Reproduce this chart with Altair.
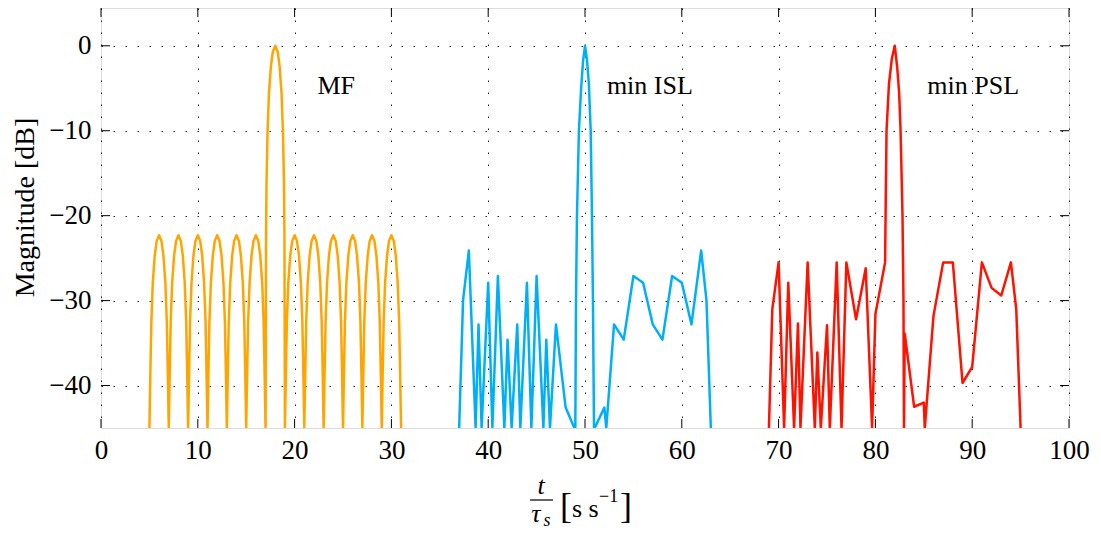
import altair as alt
import pandas as pd

# ---------------- data ----------------
x_ticks = [0, 10, 20, 30, 40, 50, 60, 70, 80, 90, 100]
y_ticks = [-40, -30, -20, -10, 0]

series_names = ["MF", "min ISL", "min PSL"]
series_colors = ["#FFA500", "#00B0F6", "#FF1200"]

mf_t = [
    5, 5.1, 5.2, 5.35, 5.55, 5.75, 6, 6.25, 6.45, 6.65, 6.8, 6.9,
    7, 7.1, 7.2, 7.35, 7.55, 7.75, 8, 8.25, 8.45, 8.65, 8.8, 8.9,
    9, 9.1, 9.2, 9.35, 9.55, 9.75, 10, 10.25, 10.45, 10.65, 10.8, 10.9,
    11, 11.1, 11.2, 11.35, 11.55, 11.75, 12, 12.25, 12.45, 12.65, 12.8, 12.9,
    13, 13.1, 13.2, 13.35, 13.55, 13.75, 14, 14.25, 14.45, 14.65, 14.8, 14.9,
    15, 15.1, 15.2, 15.35, 15.55, 15.75, 16, 16.25, 16.45, 16.65, 16.8, 16.9,
    17, 17.05, 17.1, 17.2, 17.35, 17.55, 17.75, 18, 18.25, 18.45, 18.65, 18.8, 18.9, 18.95,
    19, 19.1, 19.2, 19.35, 19.55, 19.75, 20, 20.25, 20.45, 20.65, 20.8, 20.9,
    21, 21.1, 21.2, 21.35, 21.55, 21.75, 22, 22.25, 22.45, 22.65, 22.8, 22.9,
    23, 23.1, 23.2, 23.35, 23.55, 23.75, 24, 24.25, 24.45, 24.65, 24.8, 24.9,
    25, 25.1, 25.2, 25.35, 25.55, 25.75, 26, 26.25, 26.45, 26.65, 26.8, 26.9,
    27, 27.1, 27.2, 27.35, 27.55, 27.75, 28, 28.25, 28.45, 28.65, 28.8, 28.9,
    29, 29.1, 29.2, 29.35, 29.55, 29.75, 30, 30.25, 30.45, 30.65, 30.8, 30.9,
    31,
]
mf_db = [
    -45, -38.4, -32.5, -27.9, -24.7, -23.0, -22.3, -23.0, -24.7, -27.9, -32.5, -38.4,
    -45, -38.4, -32.5, -27.9, -24.7, -23.0, -22.3, -23.0, -24.7, -27.9, -32.5, -38.4,
    -45, -38.4, -32.5, -27.9, -24.7, -23.0, -22.3, -23.0, -24.7, -27.9, -32.5, -38.4,
    -45, -38.4, -32.5, -27.9, -24.7, -23.0, -22.3, -23.0, -24.7, -27.9, -32.5, -38.4,
    -45, -38.4, -32.5, -27.9, -24.7, -23.0, -22.3, -23.0, -24.7, -27.9, -32.5, -38.4,
    -45, -38.4, -32.5, -27.9, -24.7, -23.0, -22.3, -23.0, -24.7, -27.9, -32.5, -38.4,
    -45, -22.1, -16.1, -10.2, -5.6, -2.4, -0.7, 0, -0.7, -2.4, -5.6, -10.2, -16.1, -22.1,
    -45, -38.4, -32.5, -27.9, -24.7, -23.0, -22.3, -23.0, -24.7, -27.9, -32.5, -38.4,
    -45, -38.4, -32.5, -27.9, -24.7, -23.0, -22.3, -23.0, -24.7, -27.9, -32.5, -38.4,
    -45, -38.4, -32.5, -27.9, -24.7, -23.0, -22.3, -23.0, -24.7, -27.9, -32.5, -38.4,
    -45, -38.4, -32.5, -27.9, -24.7, -23.0, -22.3, -23.0, -24.7, -27.9, -32.5, -38.4,
    -45, -38.4, -32.5, -27.9, -24.7, -23.0, -22.3, -23.0, -24.7, -27.9, -32.5, -38.4,
    -45, -38.4, -32.5, -27.9, -24.7, -23.0, -22.3, -23.0, -24.7, -27.9, -32.5, -38.4,
    -45,
]

isl_t = [
    37.0, 37.4, 38.0, 38.7, 39.0, 39.32, 40.0, 40.43, 41.0, 41.67, 42.0, 42.42,
    43.0, 43.32, 44.0, 44.46, 45.0, 45.7, 46.0, 46.38, 47.0, 48.0, 48.9,
    49.0, 49.07, 49.17, 49.37, 49.6, 49.8, 50.0, 50.2, 50.4, 50.59, 50.72, 50.82, 50.93,
    51.0, 52.0, 52.2, 53.0, 54.0, 55.0, 56.0, 57.0, 58.0, 59.0, 60.0, 61.0, 62.0,
    62.55, 63.0,
]
isl_db = [
    -45, -30.0, -24.1, -45, -32.8, -45, -27.9, -45, -27.1, -45, -34.6, -45,
    -32.8, -45, -27.9, -45, -27.1, -45, -34.6, -45, -32.8, -42.6, -45,
    -45, -30, -20, -10, -5, -1.8, 0, -1.6, -4.5, -10, -20, -30, -45,
    -45, -42.6, -45, -32.8, -34.6, -27.1, -27.9, -32.8, -34.6, -27.1, -27.9, -32.8, -24.1,
    -30.0, -45,
]

psl_t = [
    69.0, 69.35, 70.0, 70.57, 71.0, 71.6, 72.0, 72.26, 73.0, 73.74, 74.0, 74.36,
    75.0, 75.29, 76.0, 76.5, 77.0, 78.0, 79.0, 79.66, 80.0, 81.0,
    81.05, 81.15, 81.4, 81.7, 82.0, 82.25, 82.45, 82.6, 82.8, 82.9, 82.95,
    83.03, 84.0, 85.0, 85.1, 86.0, 87.0, 88.0, 89.0, 90.0, 91.0, 92.0, 93.0, 94.0,
    94.55, 95.0,
]
psl_db = [
    -45, -31.0, -25.5, -45, -27.9, -45, -32.7, -45, -25.5, -45, -36.1, -45,
    -32.9, -45, -25.5, -45, -25.5, -32.2, -26.2, -45, -31.6, -25.5,
    -20, -10, -4.5, -1.5, 0, -2.5, -5.5, -10, -20, -30, -45,
    -33.9, -42.5, -42.0, -45, -31.8, -25.5, -25.5, -39.7, -37.8, -25.5, -28.5, -29.4, -25.5,
    -31.0, -45,
]

label_text = ["MF", "min ISL", "min PSL"]
label_t = [24.3, 56.7, 90.1]
label_db = [-5.7, -5.7, -5.7]

# ---------------- build tables ----------------
df = pd.concat([
    pd.DataFrame({"t": mf_t, "db": mf_db, "series": series_names[0]}),
    pd.DataFrame({"t": isl_t, "db": isl_db, "series": series_names[1]}),
    pd.DataFrame({"t": psl_t, "db": psl_db, "series": series_names[2]}),
], ignore_index=True)

labels_df = pd.DataFrame({"text": label_text, "t": label_t, "db": label_db})
xt_df = pd.DataFrame({"v": x_ticks})
yt_df = pd.DataFrame({"v": y_ticks})

W, H = 968, 420
FONT = "Liberation Serif"
XS = alt.Scale(domain=[0, 100], nice=False, zero=False)
YS = alt.Scale(domain=[-45, 4.45], nice=False, zero=False)

grid_kw = dict(grid=True, gridDash=[1.5, 10.5], gridColor="#222222", gridWidth=1,
               ticks=False, tickSize=0, domain=False,
               labelFont=FONT, labelFontSize=27, labelColor="black",
               labelOverlap=False)

x_axis = alt.Axis(values=x_ticks, labelPadding=9, labelFlush=False, title=None, **grid_kw)
y_axis = alt.Axis(values=y_ticks, labelPadding=10, title="Magnitude [dB]",
                  titleFont=FONT, titleFontSize=28, titleFontWeight="normal",
                  titleColor="black", titleAngle=270, titleX=-76, titleY=199,
                  titleAlign="center", titleBaseline="middle", **grid_kw)

lines = alt.Chart(df).mark_line(clip=True, strokeWidth=2.5, strokeJoin="round").encode(
    x=alt.X("t:Q", scale=XS, axis=x_axis),
    y=alt.Y("db:Q", scale=YS, axis=y_axis),
    color=alt.Color("series:N", scale=alt.Scale(domain=series_names, range=series_colors),
                    legend=None),
)

tick_style = dict(color="black", strokeWidth=1)
ticks_bottom = alt.Chart(xt_df).mark_rule(**tick_style).encode(
    x=alt.X("v:Q", scale=XS), y=alt.value(H), y2=alt.value(H - 9))
ticks_top = alt.Chart(xt_df).mark_rule(**tick_style).encode(
    x=alt.X("v:Q", scale=XS), y=alt.value(0), y2=alt.value(9))
ticks_left = alt.Chart(yt_df).mark_rule(**tick_style).encode(
    y=alt.Y("v:Q", scale=YS), x=alt.value(0), x2=alt.value(9))
ticks_right = alt.Chart(yt_df).mark_rule(**tick_style).encode(
    y=alt.Y("v:Q", scale=YS), x=alt.value(W), x2=alt.value(W - 9))

series_labels = alt.Chart(labels_df).mark_text(
    font=FONT, fontSize=26, color="black", align="center", baseline="alphabetic"
).encode(x=alt.X("t:Q", scale=XS), y=alt.Y("db:Q", scale=YS), text="text:N")

one = alt.Data(values=[{"a": 1}])


def txt(s, px, py, size=26, style="normal", align="center"):
    return alt.Chart(one).mark_text(
        font=FONT, fontSize=size, fontStyle=style, color="black",
        align=align, baseline="alphabetic"
    ).encode(x=alt.value(px), y=alt.value(py), text=alt.value(s))


frac_bar = alt.Chart(one).mark_rule(color="black", strokeWidth=1.2).encode(
    x=alt.value(429), x2=alt.value(452), y=alt.value(492))

title_parts = [
    txt("t", 440, 486, style="italic"),
    frac_bar,
    txt("τ", 435, 514, style="italic"),
    txt("s", 446, 518, size=18, style="italic"),
    txt("[", 459, 510, size=36, align="left"),
    txt("s s", 471, 509, align="left"),
    txt("−1", 498, 494, size=18, align="left"),
    txt("]", 519, 510, size=36, align="left"),
]

chart = alt.layer(
    lines, ticks_bottom, ticks_top, ticks_left, ticks_right, series_labels, *title_parts
).properties(
    width=W, height=H,
    autosize=alt.AutoSizeParams(type="none"),
    padding={"left": 93, "top": 0, "right": 22, "bottom": 103},
).configure_view(
    stroke="black", strokeWidth=1.4
).configure(background="white")

chart.save("out.html", embed_options={"renderer": "svg", "actions": False})
